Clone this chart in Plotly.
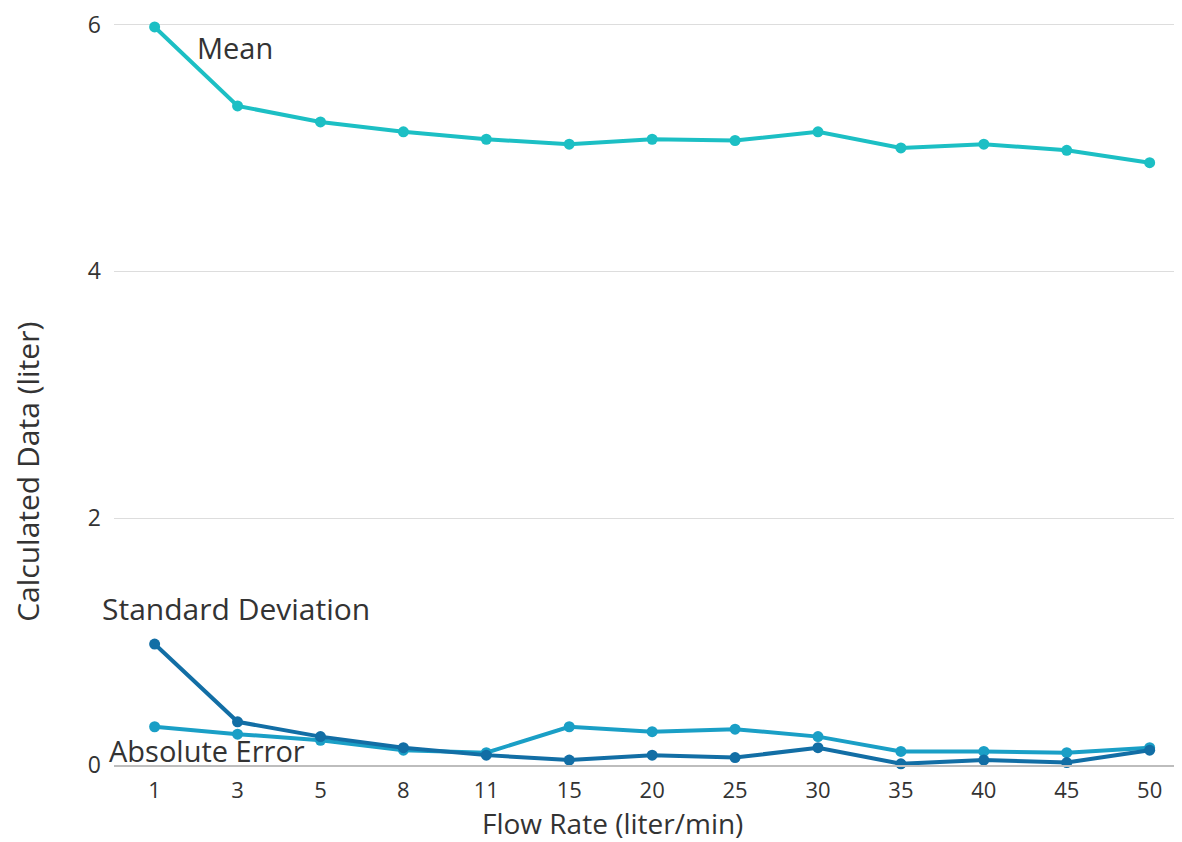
import plotly.graph_objects as go

categories = ["1", "3", "5", "8", "11", "15", "20", "25", "30", "35", "40", "45", "50"]
mean_vals = [5.98, 5.34, 5.21, 5.13, 5.07, 5.03, 5.07, 5.06, 5.13, 5.00, 5.03, 4.98, 4.88]
std_vals = [0.98, 0.35, 0.23, 0.14, 0.08, 0.04, 0.08, 0.06, 0.14, 0.01, 0.04, 0.02, 0.12]
abs_err_vals = [0.31, 0.25, 0.20, 0.12, 0.10, 0.31, 0.27, 0.29, 0.23, 0.11, 0.11, 0.10, 0.14]

FONT = "Open Sans"
TXT = "#333333"

fig = go.Figure()
series = [
    ("Absolute Error", abs_err_vals, "#1a9fc6"),
    ("Standard Deviation", std_vals, "#126ea5"),
    ("Mean", mean_vals, "#1cbfc4"),
]
for name, vals, col in series:
    fig.add_trace(go.Scatter(
        x=categories, y=vals, name=name, mode="lines+markers",
        line=dict(color=col, width=4),
        marker=dict(color=col, size=11),
        cliponaxis=False,
        hoverinfo="x+y+name",
    ))

labels = [
    ("Mean", 0.97, 5.81, 29),
    ("Standard Deviation", 0.98, 1.27, 30),
    ("Absolute Error", 0.63, 0.12, 29),
]
for text, xi, yi, fs in labels:
    fig.add_annotation(x=xi, y=yi, xref="x", yref="y", text=text, showarrow=False,
                       font=dict(family=FONT, size=fs, color=TXT))

# axis titles
fig.add_annotation(x=0.467, y=-0.078, xref="paper", yref="paper",
                   text="Flow Rate (liter/min)", showarrow=False,
                   xanchor="center", yanchor="middle",
                   font=dict(family=FONT, size=28, color=TXT))
fig.add_annotation(x=-0.0805, y=0.3946, xref="paper", yref="paper",
                   text="Calculated Data (liter)", showarrow=False, textangle=-90,
                   xanchor="center", yanchor="middle",
                   font=dict(family=FONT, size=30, color=TXT))

fig.update_layout(
    width=1174, height=834,
    margin=dict(l=106, r=0, t=9, b=77),
    paper_bgcolor="white", plot_bgcolor="white",
    showlegend=False,
    font=dict(family=FONT, color=TXT),
    xaxis=dict(
        type="category", range=[-0.49, 12.39],
        showgrid=False, showline=True, linecolor="#bdbdbd", linewidth=2,
        ticks="", tickfont=dict(size=22, color=TXT), ticklabelstandoff=5,
    ),
    yaxis=dict(
        range=[0, 6.02], tickvals=[0, 2, 4, 6],
        showgrid=True, gridcolor="#dddddd", gridwidth=1,
        zeroline=False, showline=False, ticks="",
        tickfont=dict(size=23, color=TXT), ticklabelstandoff=12,
        ticklabeloverflow="allow",
    ),
)

fig.write_html("out.html")
